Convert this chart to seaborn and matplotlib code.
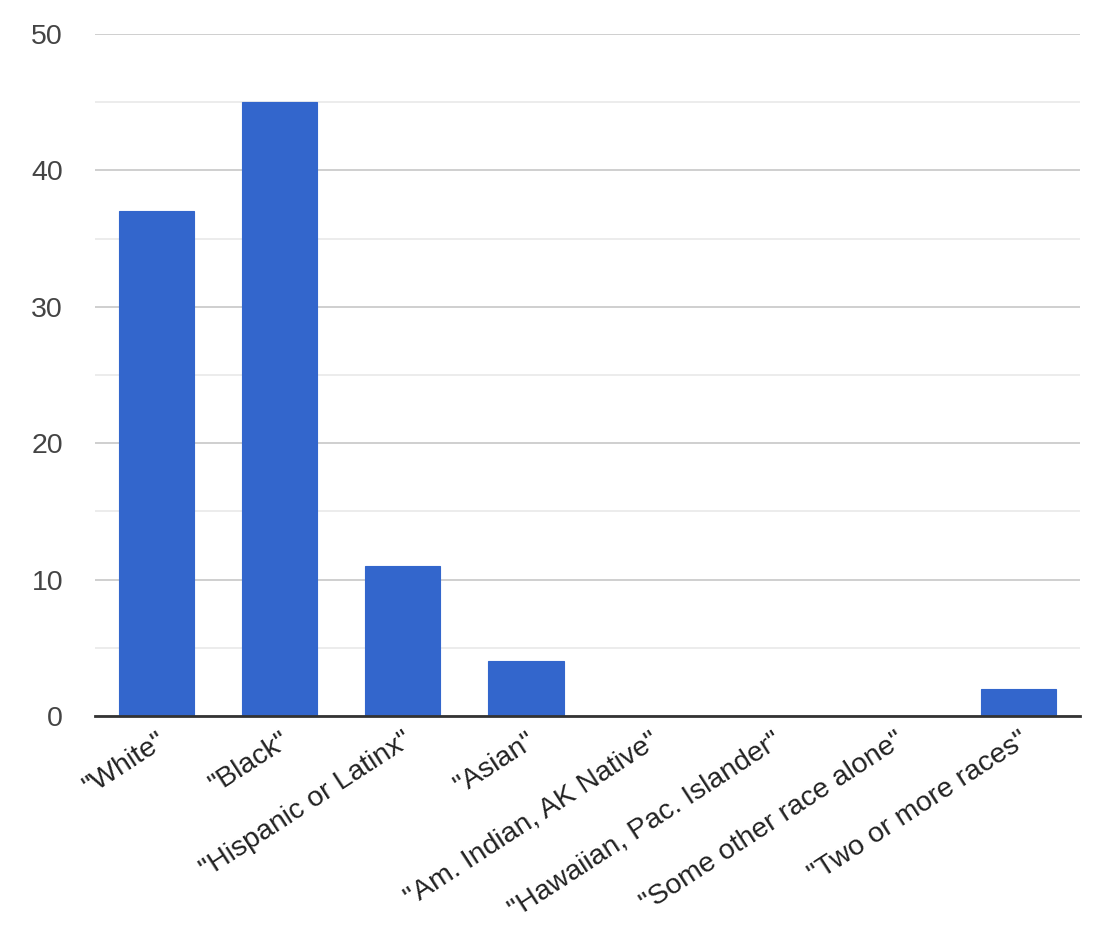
import matplotlib
matplotlib.use("Agg")
import matplotlib.pyplot as plt
import seaborn as sns
import pandas as pd
from matplotlib.ticker import MultipleLocator

# Dữ liệu
categories = ['"White"', '"Black"', '"Hispanic or Latinx"', '"Asian"',
              '"Am. Indian, AK Native"', '"Hawaiian, Pac. Islander"',
              '"Some other race alone"', '"Two or more races"']
counts = [37, 45, 11, 4, 0, 0, 0, 2]

df = pd.DataFrame({"category": categories, "count": counts})

sns.set_style("white")
plt.rcParams['font.family'] = ['Liberation Sans', 'DejaVu Sans']

fig = plt.figure(figsize=(11.1, 9.27), dpi=100, facecolor='white')
ax = fig.add_axes([0.0856, 0.2276, 0.8874, 0.7357])

sns.barplot(data=df, x="category", y="count", color="#3366CC", saturation=1,
            width=0.61, edgecolor="#3366CC", linewidth=0.8, ax=ax, zorder=3)

ax.set_ylim(0, 50)
ax.set_xlim(-0.5, len(categories) - 0.5)
ax.yaxis.set_major_locator(MultipleLocator(10))
ax.yaxis.set_minor_locator(MultipleLocator(5))
ax.grid(which='major', axis='y', color='#cccccc', linewidth=1.3, zorder=0)
ax.grid(which='minor', axis='y', color='#ebebeb', linewidth=1.3, zorder=0)
ax.set_axisbelow(True)

for s in ['top', 'right', 'left']:
    ax.spines[s].set_visible(False)
ax.spines['bottom'].set_color('#333333')
ax.spines['bottom'].set_linewidth(2)
ax.spines['bottom'].set_zorder(4)

ax.tick_params(axis='y', which='both', length=0, pad=23, labelsize=20.5, labelcolor='#444444')
ax.tick_params(axis='x', length=0, pad=8, labelsize=20.5, labelcolor='#222222')
plt.setp(ax.get_xticklabels(), rotation=33, ha='right', rotation_mode='anchor')

ax.set_xlabel('')
ax.set_ylabel('')

fig.savefig("out.png", dpi=100, facecolor='white')
